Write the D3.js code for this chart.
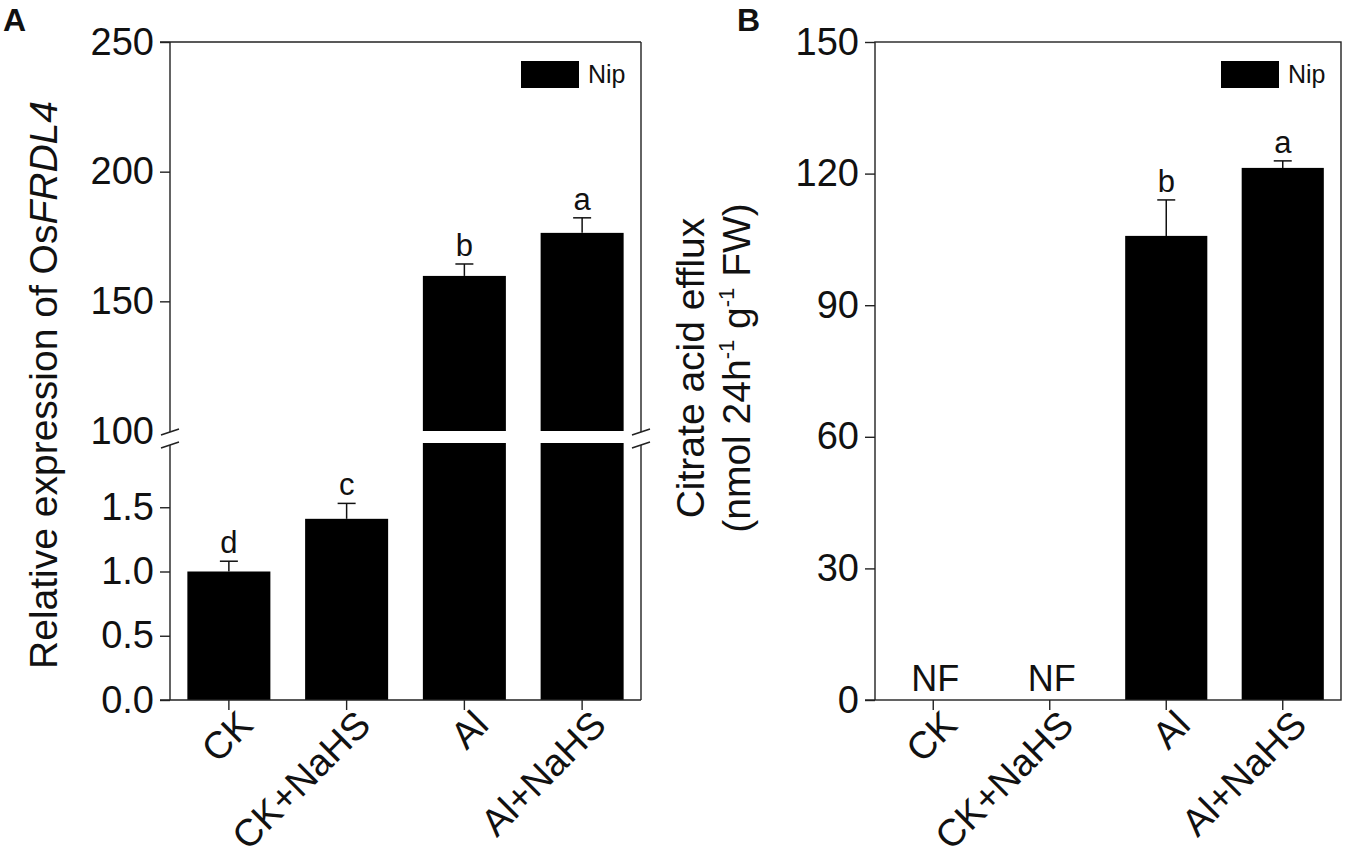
<!DOCTYPE html>
<html>
<head>
	<meta charset="utf-8">
	<title></title>
	<script src="https://d3js.org/d3.v7.min.js"></script>
	<style>
		body { margin: 0; background: #fff; }
		text { font-family: Arial, "Liberation Sans", sans-serif; fill: #111; }
		.axis path, .axis line { stroke: #222; stroke-width: 1.4; }
		.axis text { font-size: 38px; }
		.frame { stroke: #222; stroke-width: 1.4; fill: none; }
	</style>
</head>
<body>
	<svg width="1350" height="857"></svg>
<script type="text/javascript">

// shared categories
const groups = ["CK", "CK+NaHS", "Al", "Al+NaHS"];

// panel A: relative expression of OsFRDL4
const exprMean = [1.0, 1.41, 159.8, 176.4];
const exprErr = [0.08, 0.12, 4.6, 5.8];
const exprLetters = ["d", "c", "b", "a"];
const exprTicksLower = [0, 0.5, 1.0, 1.5];
const exprTicksUpper = [100, 150, 200, 250];

// panel B: citrate efflux (null = not found)
const effluxMean = [null, null, 105.8, 121.3];
const effluxErr = [null, null, 8.2, 1.6];
const effluxLetters = ["NF", "NF", "b", "a"];
const effluxTicks = [0, 30, 60, 90, 120, 150];

const svg = d3.select("svg");
const top0 = 42, bottom0 = 700;

function xLabels(g, x, y0) {
	// rotated category labels under the bars
	g.selectAll("text.xl")
		.data(groups)
		.enter().append("text")
		.attr("class", "xl")
		.attr("text-anchor", "end")
		.attr("font-size", 38)
		.attr("transform", function(d) {
			return "translate(" + (x(d) + x.bandwidth() / 2 + 26) + "," + (y0 + 27) + ") rotate(-45)";
		})
		.text(function(d) { return d; });
}

function errBar(g, cx, yTop, yVal) {
	g.append("line").attr("x1", cx).attr("x2", cx).attr("y1", yVal).attr("y2", yTop)
		.attr("stroke", "#111").attr("stroke-width", 1.5);
	g.append("line").attr("x1", cx - 9).attr("x2", cx + 9).attr("y1", yTop).attr("y2", yTop)
		.attr("stroke", "#111").attr("stroke-width", 1.5);
}

function legend(g, right) {
	g.append("rect").attr("x", right - 120).attr("y", 61).attr("width", 58).attr("height", 27).attr("fill", "#000");
	g.append("text").attr("x", right - 53).attr("y", 83).attr("font-size", 25).text("Nip");
}

// ---------- panel A ----------
(function() {
	const left = 170, right = 641;
	const breakTop = 431, breakBot = 443;
	const g = svg.append("g");

	const x = d3.scaleBand().domain(groups).range([left, right]).paddingInner(0.295).paddingOuter(0.1475);
	const yLow = d3.scaleLinear().domain([0, 2]).range([bottom0, breakBot]);
	const yUp = d3.scaleLinear().domain([100, 250]).range([breakTop, top0]);

	// bars
	groups.forEach(function(d, i) {
		const v = exprMean[i];
		const bx = x(d), bw = x.bandwidth(), cx = bx + bw / 2;
		let yTop, yVal;
		if (v > 2) {
			g.append("rect").attr("x", bx).attr("width", bw)
				.attr("y", yLow(2)).attr("height", yLow(0) - yLow(2)).attr("fill", "#000");
			g.append("rect").attr("x", bx).attr("width", bw)
				.attr("y", yUp(v)).attr("height", yUp(100) - yUp(v)).attr("fill", "#000");
			yVal = yUp(v); yTop = yUp(v + exprErr[i]);
		} else {
			g.append("rect").attr("x", bx).attr("width", bw)
				.attr("y", yLow(v)).attr("height", yLow(0) - yLow(v)).attr("fill", "#000");
			yVal = yLow(v); yTop = yLow(v + exprErr[i]);
		}
		errBar(g, cx, yTop, yVal);
		g.append("text").attr("x", cx).attr("y", yTop - 8).attr("text-anchor", "middle")
			.attr("font-size", 31).text(exprLetters[i]);
	});

	// axes
	const axLow = g.append("g").attr("class", "axis").attr("transform", "translate(" + left + ",0)")
		.call(d3.axisLeft(yLow).tickValues(exprTicksLower).tickFormat(d3.format(".1f")).tickSize(10).tickPadding(6));
	const axUp = g.append("g").attr("class", "axis").attr("transform", "translate(" + left + ",0)")
		.call(d3.axisLeft(yUp).tickValues(exprTicksUpper).tickFormat(d3.format("d")).tickSize(10).tickPadding(6));
	axLow.select(".domain").remove();
	axUp.select(".domain").remove();
	axUp.selectAll(".tick").filter(function(d) { return d === 100; }).select("line").remove();

	g.append("g").attr("class", "axis").attr("transform", "translate(0," + bottom0 + ")")
		.call(d3.axisBottom(x).tickSize(10).tickFormat(""))
		.select(".domain").remove();

	// frame with broken verticals
	[left, right].forEach(function(xx) {
		g.append("line").attr("class", "frame").attr("x1", xx).attr("x2", xx).attr("y1", top0).attr("y2", breakTop + 1);
		g.append("line").attr("class", "frame").attr("x1", xx).attr("x2", xx).attr("y1", breakBot + 2).attr("y2", bottom0);
		g.append("line").attr("class", "frame").attr("x1", xx - 9).attr("x2", xx + 9).attr("y1", breakTop + 4).attr("y2", breakTop - 2);
		g.append("line").attr("class", "frame").attr("x1", xx - 9).attr("x2", xx + 9).attr("y1", breakBot + 5).attr("y2", breakBot - 1);
	});
	g.append("line").attr("class", "frame").attr("x1", left - 10).attr("x2", right).attr("y1", top0).attr("y2", top0);
	g.append("line").attr("class", "frame").attr("x1", left - 10).attr("x2", right).attr("y1", bottom0).attr("y2", bottom0);

	xLabels(g, x, bottom0);
	legend(g, right);

	const t = g.append("text").attr("text-anchor", "middle").attr("font-size", 39)
		.attr("transform", "translate(57,385) rotate(-90)");
	t.append("tspan").text("Relative expression of Os");
	t.append("tspan").attr("font-style", "italic").text("FRDL4");

	g.append("text").attr("x", 3).attr("y", 31).attr("font-size", 32).attr("font-weight", "bold").text("A");
})();

// ---------- panel B ----------
(function() {
	const left = 875, right = 1341;
	const g = svg.append("g");

	const x = d3.scaleBand().domain(groups).range([left, right]).paddingInner(0.295).paddingOuter(0.1475);
	const y = d3.scaleLinear().domain([0, 150]).range([bottom0, top0]);

	groups.forEach(function(d, i) {
		const cx = x(d) + x.bandwidth() / 2;
		const v = effluxMean[i];
		if (v === null) {
			g.append("text").attr("x", cx + 2).attr("y", y(0) - 9).attr("text-anchor", "middle")
				.attr("font-size", 36).text(effluxLetters[i]);
			return;
		}
		g.append("rect").attr("x", x(d)).attr("width", x.bandwidth())
			.attr("y", y(v)).attr("height", y(0) - y(v)).attr("fill", "#000");
		const yTop = y(v + effluxErr[i]);
		errBar(g, cx, yTop, y(v));
		g.append("text").attr("x", cx).attr("y", yTop - 8).attr("text-anchor", "middle")
			.attr("font-size", 31).text(effluxLetters[i]);
	});

	g.append("g").attr("class", "axis").attr("transform", "translate(" + left + ",0)")
		.call(d3.axisLeft(y).tickValues(effluxTicks).tickSize(10).tickPadding(6))
		.select(".domain").remove();
	g.append("g").attr("class", "axis").attr("transform", "translate(0," + bottom0 + ")")
		.call(d3.axisBottom(x).tickSize(10).tickFormat(""))
		.select(".domain").remove();

	g.append("rect").attr("class", "frame").attr("x", left).attr("y", top0)
		.attr("width", right - left).attr("height", bottom0 - top0);
	g.append("line").attr("class", "frame").attr("x1", left - 10).attr("x2", left).attr("y1", bottom0).attr("y2", bottom0);

	xLabels(g, x, bottom0);
	legend(g, right);

	g.append("text").attr("text-anchor", "middle").attr("font-size", 39)
		.attr("transform", "translate(704,368) rotate(-90)")
		.text("Citrate acid efflux");
	const t2 = g.append("text").attr("text-anchor", "middle").attr("font-size", 39)
		.attr("transform", "translate(750,368) rotate(-90)");
	t2.append("tspan").text("(nmol 24h");
	t2.append("tspan").attr("font-size", 22).attr("dy", -16).text("-1");
	t2.append("tspan").attr("dy", 16).text(" g");
	t2.append("tspan").attr("font-size", 22).attr("dy", -16).text("-1");
	t2.append("tspan").attr("dy", 16).text(" FW)");

	g.append("text").attr("x", 737).attr("y", 31).attr("font-size", 32).attr("font-weight", "bold").text("B");
})();

</script>
</body>
</html>
